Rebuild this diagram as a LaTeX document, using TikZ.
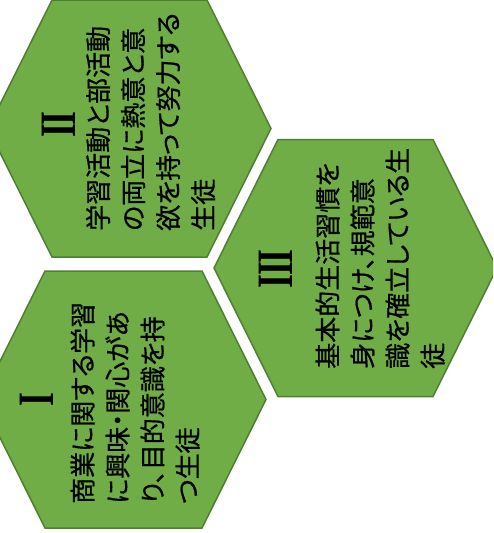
\documentclass[tikz,border=0pt]{standalone}
\usepackage{fontspec}
\usepackage{graphicx}
\usepackage{xcolor}
\usepackage{tikz}
\newfontfamily\jpfont[RawFeature=+palt, FakeBold=0.6]{Noto Sans CJK JP}
\newfontfamily\numfont{Liberation Serif}
\definecolor{hexfill}{HTML}{70AD47}
\definecolor{hexline}{HTML}{507E32}
\newcommand{\hexnum}[1]{\scalebox{0.7}[1]{#1}}

\begin{document}
\begin{tikzpicture}[
      x=1pt, y=-1pt,
      hexa/.style={
        draw=hexline,
        fill=hexfill,
        line width=1.5pt
      },
      txt/.style={
        rotate=90,
        anchor=west,
        align=left,
        inner sep=0pt,
        font=\jpfont\fontsize{26}{35}\selectfont
      },
      num/.style={
        rotate=90,
        inner sep=0pt,
        font=\numfont\bfseries\fontsize{51}{51}\selectfont
      }
      ]
        \useasboundingbox (0,0) rectangle (493,533);
        \clip (0,0) rectangle (493,533);

        % II
        \draw[hexa] (-12,128.5) -- (52,0) -- (207,0) -- (271,128.5) -- (207,257) -- (52,257) -- cycle;
        \node[num] (num2) at (59,124.5) {\hexnum{I\kern-0.04em I}};
        \node[txt] (txt2) at (150.5,231) {学習活動と部活動\\の両立に熱意と意\\欲を持って努力する\\生徒};

        % I
        \draw[hexa] (-19,399.5) -- (45,271) -- (202,271) -- (266,399.5) -- (202,528) -- (45,528) -- cycle;
        \node[num] (num1) at (37,400) {\hexnum{I}};
        \node[txt] (txt1) at (135,504) {商業に関する学習\\に興味・関心があ\\り、目的意識を持\\つ生徒};

        % III
        \draw[hexa] (214,268) -- (278,139.5) -- (433,139.5) -- (497,268) -- (433,396.5) -- (278,396.5) -- cycle;
        \node[num] (num3) at (275.5,269) {\hexnum{I\kern-0.04em I\kern-0.04em I}};
        \node[txt] (txt3) at (380,369) {基本的生活習慣を\\身につけ、規範意\\識を確立している生\\徒};
    \end{tikzpicture}
\end{document}
